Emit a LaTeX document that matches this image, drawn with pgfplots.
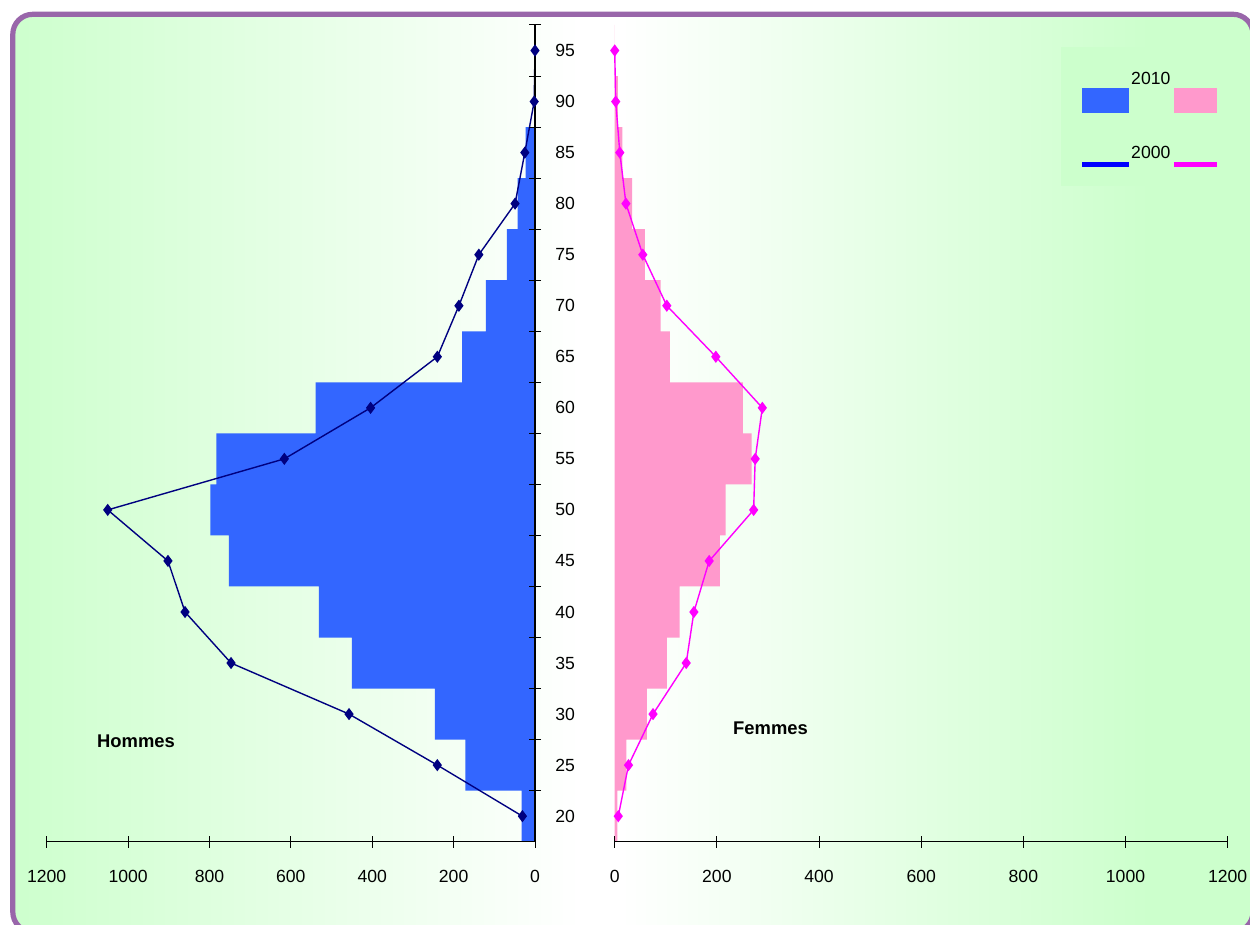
\documentclass[border=0pt]{standalone}
\usepackage{fontspec}
\setmainfont{Liberation Sans}
\usepackage{pgfplots}
\usepackage{pgfplotstable}
\pgfplotsset{compat=1.18}
\definecolor{bggreen}{RGB}{204,255,204}
\definecolor{legbg}{RGB}{204,255,204}
\definecolor{mblue}{RGB}{51,102,255}
\definecolor{fpink}{RGB}{255,153,204}
\definecolor{mnavy}{RGB}{0,0,128}
\definecolor{fmag}{RGB}{255,0,255}
\definecolor{frame}{RGB}{153,102,170}

% 2010 bars: interval lower bounds (age groups centred on 20,25,...,95)
\pgfplotstableread{
lo   m10  f10
17.5 33   5
22.5 171  23
27.5 246  63
32.5 450  102
37.5 531  127
42.5 752  206
47.5 798  217
52.5 783  268
57.5 539  251
62.5 179  108
67.5 121  90
72.5 69   59
77.5 43   34
82.5 23   15
87.5 2    6
92.5 0    0
97.5 0    0
}\bars

% 2000 lines
\pgfplotstableread{
age m00  f00
20  31   7
25  240  27
30  457  75
35  747  140
40  860  155
45  902  185
50  1050 272
55  616  275
60  404  289
65  240  198
70  187  102
75  138  55
80  49   22
85  25   10
90  2    2
95  0    0
}\lines

\pgfplotsset{pyr/.style={
  scale only axis, height=408.35pt, ymin=17.5, ymax=97.5,
  clip=false, axis on top,
  tick align=center, major tick length=6pt,
  tick style={black, line width=0.5pt},
  axis line style={black, line width=0.6pt, -},
  every non boxed x axis/.append style={x axis line style=-},
  every non boxed y axis/.append style={y axis line style=-},
  ticklabel style={font=\fontsize{8.8}{10}\selectfont},
  xticklabel style={inner sep=0pt, anchor=north, yshift=-11pt},
}}

\begin{document}
\begin{tikzpicture}
\useasboundingbox (0,0) rectangle (625pt,462.5pt);
\begin{scope}
\clip[rounded corners=10pt] (6.4pt,-3.5pt) rectangle (626.5pt,455.35pt);
\shade[left color=bggreen, right color=white] (0,-5pt) rectangle (290pt,470pt);
\fill[white] (289.5pt,-5pt) rectangle (310.5pt,470pt);
\shade[left color=white, right color=bggreen] (310pt,-5pt) rectangle (575pt,470pt);
\fill[bggreen] (574.5pt,-5pt) rectangle (630pt,470pt);
\end{scope}
\draw[frame, line width=2.6pt, rounded corners=10pt] (6.4pt,-3.5pt) rectangle (626.5pt,455.35pt);

% legend background
\fill[legbg] (530.5pt,369.65pt) rectangle (625pt,439.15pt);

\begin{axis}[pyr, at={(23.35pt,41.65pt)}, anchor=south west, width=244.15pt,
  xmin=-1200, xmax=0,
  axis x line=bottom, axis y line=right,
  x axis line style={-}, y axis line style={-},
  xtick={-1200,-1000,-800,-600,-400,-200,0},
  xticklabels={1200,1000,800,600,400,200,0},
  ytick={22.5,27.5,...,97.5},
  yticklabels={20,25,30,35,40,45,50,55,60,65,70,75,80,85,90,95},
  yticklabel style={anchor=west, inner sep=0pt, xshift=7pt, yshift=-12.76pt},
]
\addplot[xbar interval, fill=mblue, draw=none] table[x expr=-\thisrow{m10}, y=lo]{\bars};
\addplot[color=mnavy, line width=0.7pt, mark=diamond*, mark size=2.5pt, mark options={fill=mnavy}] table[x expr=-\thisrow{m00}, y=age]{\lines};
\end{axis}

\begin{axis}[pyr, at={(307.35pt,41.65pt)}, anchor=south west, width=306.5pt,
  xmin=0, xmax=1200,
  axis x line=bottom, axis y line=none, ytick=\empty,
  x axis line style={-},
  xtick={0,200,400,600,800,1000,1200},
  xticklabels={0,200,400,600,800,1000,1200},
]
\addplot[xbar interval, fill=fpink, draw=none] table[x=f10, y=lo]{\bars};
\addplot[color=fmag, line width=0.7pt, mark=diamond*, mark size=2.5pt, mark options={fill=fmag}] table[x=f00, y=age]{\lines};
\end{axis}

% legend
\fill[mblue] (541pt,406.15pt) rectangle (564.5pt,418.5pt);
\fill[fpink] (587pt,406.15pt) rectangle (608.5pt,418.5pt);
\node[anchor=base, inner sep=0pt, font=\fontsize{8.8}{10}\selectfont] at (575.4pt,420.35pt) {2010};
\node[anchor=base, inner sep=0pt, font=\fontsize{8.8}{10}\selectfont] at (575.4pt,383pt) {2000};
\draw[blue, line width=2.5pt] (541pt,380.25pt) -- (564.5pt,380.25pt);
\draw[fmag, line width=2.5pt] (587pt,380.25pt) -- (608.5pt,380.25pt);

\node[font=\bfseries\fontsize{9.2}{11}\selectfont] at (68pt,92pt) {Hommes};
\node[font=\bfseries\fontsize{9.2}{11}\selectfont] at (385.25pt,98.5pt) {Femmes};
\end{tikzpicture}
\end{document}
